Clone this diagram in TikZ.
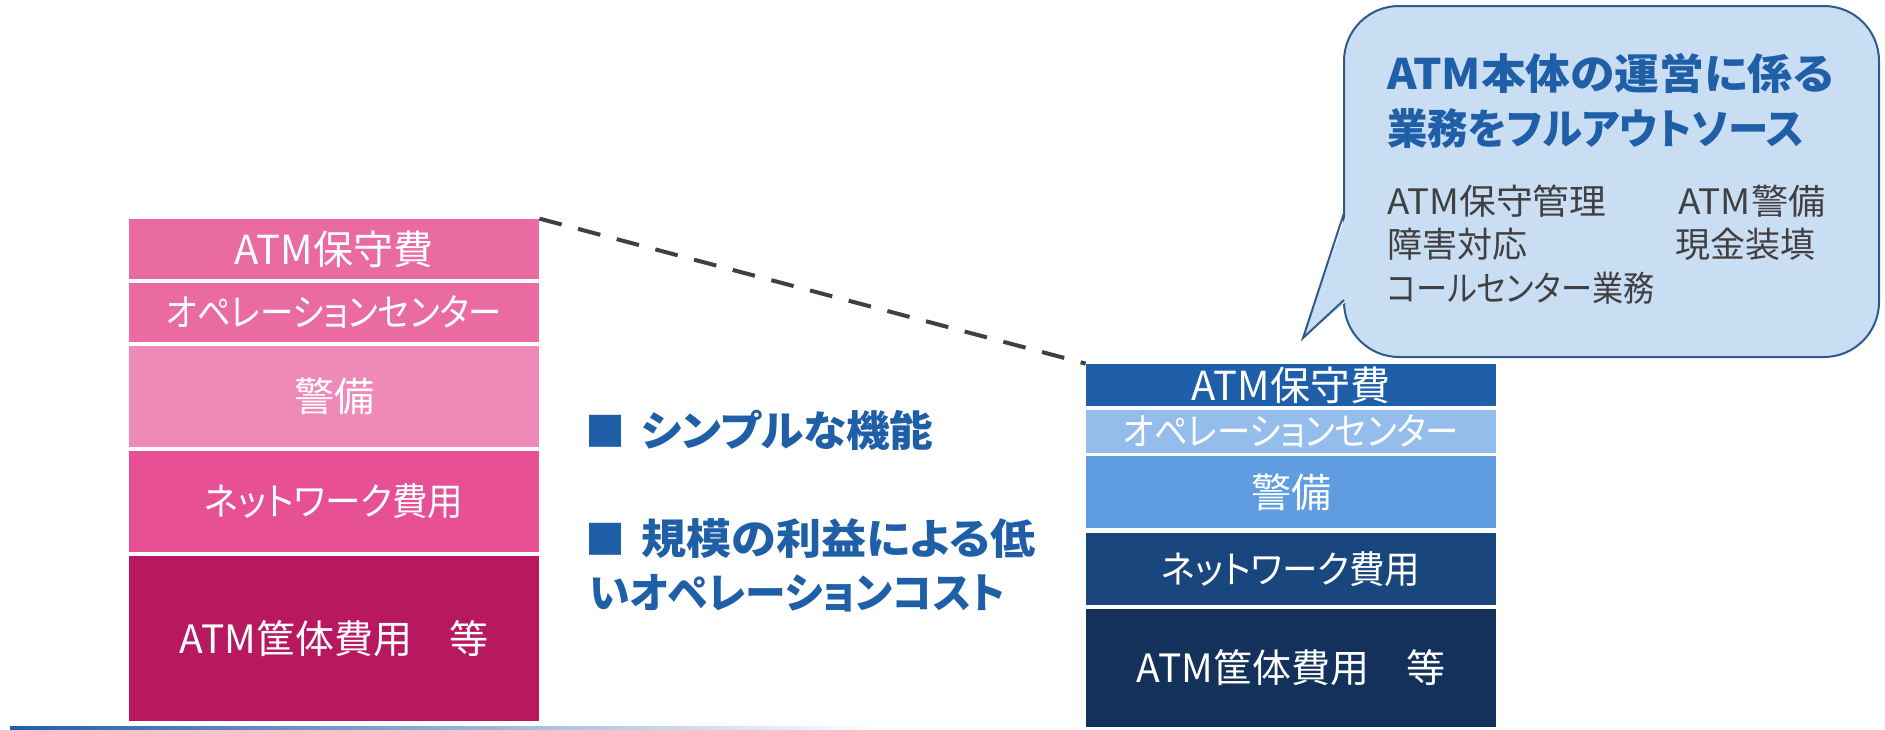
\documentclass[tikz,border=0pt]{standalone}
\usepackage{graphicx}
\usepackage{fontspec}
\setmainfont{Noto Sans CJK JP}[RawFeature={+palt}]
\definecolor{pinkA}{HTML}{EA6BA1}
\definecolor{pinkL}{HTML}{EF8AB8}
\definecolor{pinkM}{HTML}{E75094}
\definecolor{pinkD}{HTML}{B8185F}
\definecolor{blueA}{HTML}{1F5EA8}
\definecolor{blueB}{HTML}{94BDEB}
\definecolor{blueC}{HTML}{609DE0}
\definecolor{blueD}{HTML}{1A467E}
\definecolor{blueE}{HTML}{13315A}
\definecolor{callfill}{HTML}{C9DDF3}
\definecolor{callline}{HTML}{2F5A8C}
\definecolor{titleblue}{HTML}{1F5FA8}
\definecolor{darkgray}{HTML}{404040}
\newcommand{\sqz}[2]{\scalebox{#1}[1]{#2}}
\begin{document}
\begin{tikzpicture}[x=0.5pt,y=-0.5pt,
  stackbox/.style={rectangle, inner sep=0pt, text=white, minimum width=205pt,
    font=\fontsize{19pt}{22pt}\selectfont},
  bigtext/.style={font=\fontsize{20pt}{23pt}\selectfont},
  dashline/.style={draw=darkgray, line width=2pt, dash pattern=on 11.5pt off 8.5pt},
  callout/.style={rectangle, rounded corners=27.5pt, fill=callfill, draw=callline, line width=1pt},
  ctitle/.style={anchor=base west, inner sep=0pt, text=titleblue,
    font=\fontsize{21pt}{24pt}\selectfont\bfseries},
  cbody/.style={anchor=base west, inner sep=0pt, text=darkgray,
    font=\fontsize{17.5pt}{20pt}\selectfont},
  midtext/.style={anchor=base west, inner sep=0pt, text=titleblue,
    font=\fontsize{21pt}{24pt}\selectfont\bfseries}
]
\useasboundingbox (0,0) rectangle (1885,729);

% left stack
\node[stackbox, bigtext, fill=pinkA, minimum height=30pt] (L1) at (334,249) {ATM保守費};
\node[stackbox, fill=pinkA, minimum height=29.5pt] (L2) at (334,312.5) {\sqz{0.88}{オペレーションセンター}};
\node[stackbox, bigtext, fill=pinkL, minimum height=50.5pt] (L3) at (334,396.5) {警備};
\node[stackbox, fill=pinkM, minimum height=50.5pt] (L4) at (334,501.5) {\sqz{0.935}{ネットワーク費用}};
\node[stackbox, font=\fontsize{19.5pt}{23pt}\selectfont, fill=pinkD, minimum height=82.5pt] (L5) at (334,638.5) {ATM筐体費用\hspace{0.95em}等};

% right stack
\node[stackbox, bigtext, fill=blueA, minimum height=21pt] (R1) at (1291,385) {ATM保守費};
\node[stackbox, fill=blueB, minimum height=21.5pt] (R2) at (1291,431.5) {\sqz{0.88}{オペレーションセンター}};
\node[stackbox, bigtext, fill=blueC, minimum height=36pt] (R3) at (1291,492) {警備};
\node[stackbox, fill=blueD, minimum height=36pt] (R4) at (1291,569) {\sqz{0.935}{ネットワーク費用}};
\node[stackbox, font=\fontsize{19.5pt}{23pt}\selectfont, fill=blueE, minimum height=59pt] (R5) at (1291,668) {ATM筐体費用\hspace{0.95em}等};

% dashed connector
\draw[dashline] (L1.north east) -- (R1.north west);

% callout
\node[callout, minimum width=267.5pt, minimum height=175.5pt] (C) at (1611.5,181.5) {};
\coordinate (P) at (1303,338);
\fill[callfill] (1347,212) -- (P) -- (1347,301) -- cycle;
\draw[callline, line width=1pt, line join=miter] (1344,213) -- (P) -- (1344,300);

\node[ctitle] (T1) at (1387,89.5)  {\sqz{1.066}{ATM本体の運営に係る}};
\node[ctitle] (T2) at (1387,144.5) {\sqz{0.963}{業務をフルアウトソース}};
\node[cbody] (B1) at (1387,214) {\sqz{1.05}{ATM保守管理}};
\node[cbody] (B2) at (1678,214) {\sqz{1.06}{ATM警備}};
\node[cbody] (B3) at (1387,257.5) {障害対応};
\node[cbody] (B4) at (1675,257.5) {現金装填};
\node[cbody] (B5) at (1387,301) {\sqz{0.89}{コールセンター業務}};

% middle text
\node[midtext] (M1) at (585,446) {{\fontsize{20pt}{24pt}\selectfont ■}\hspace{0.38em}\sqz{1.04}{シンプルな機能}};
\node[midtext] (M2) at (585,554) {{\fontsize{20pt}{24pt}\selectfont ■}\hspace{0.38em}\sqz{1.075}{規模の利益による低}};
\node[midtext] (M3) at (589,608) {\sqz{0.97}{いオペレーションコスト}};

% bottom rule
\shade[left color=blueA, right color=white] (10,726) rectangle (880,729);
\end{tikzpicture}
\end{document}
